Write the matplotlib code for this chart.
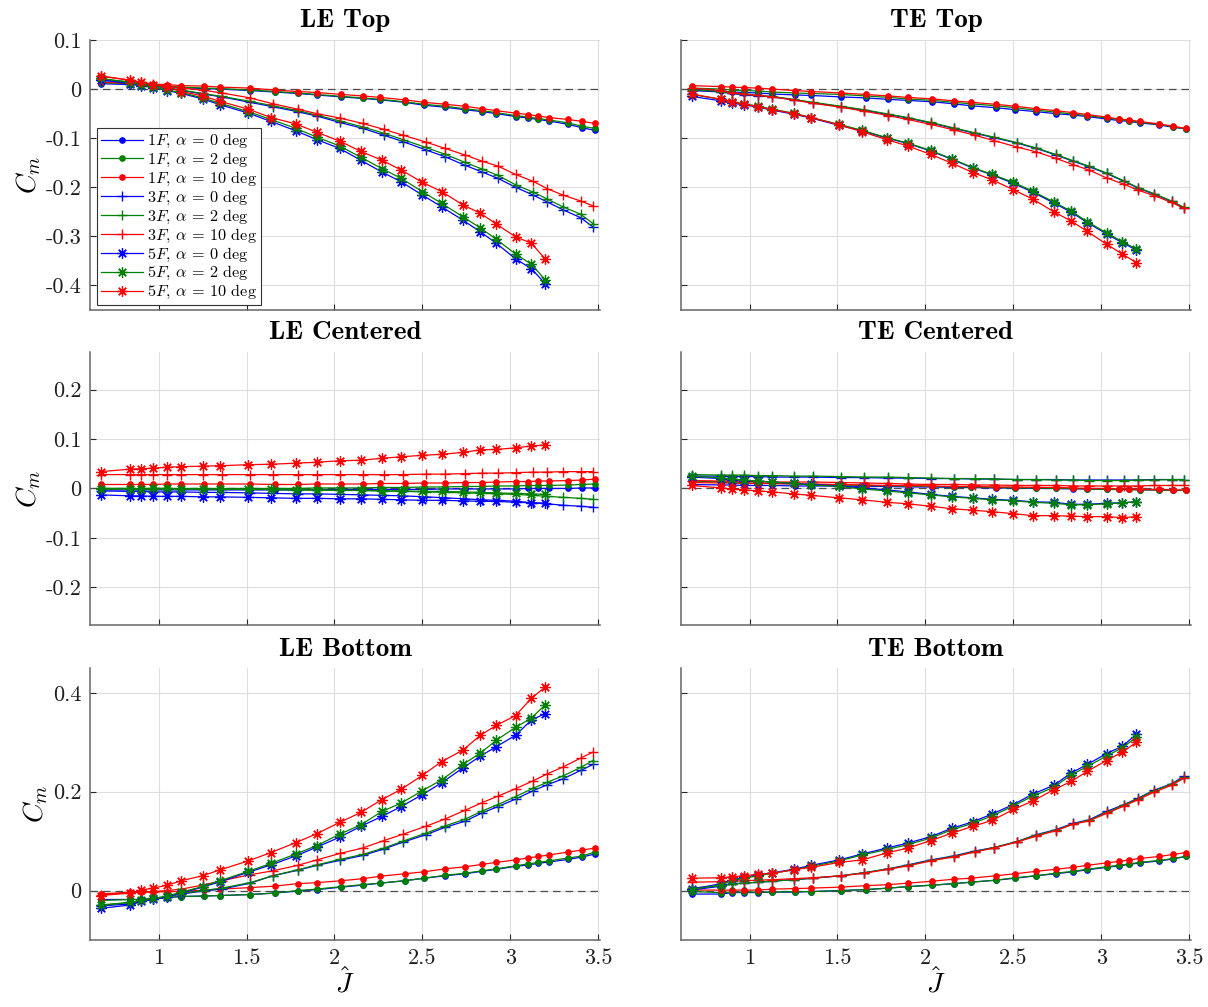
import matplotlib
matplotlib.use("Agg")
import matplotlib.pyplot as plt
from matplotlib.ticker import FuncFormatter

plt.rcParams['font.family'] = ['cmr10', 'DejaVu Serif']
plt.rcParams['mathtext.fontset'] = 'cm'
plt.rcParams['axes.unicode_minus'] = False
plt.rcParams['axes.formatter.use_mathtext'] = True

# ---------------- data ----------------
J1 = [0.67, 0.84, 0.90, 0.97, 1.05, 1.13, 1.26, 1.35, 1.52, 1.66, 1.79, 1.90, 2.04, 2.16,
      2.26, 2.40, 2.51, 2.63, 2.74, 2.84, 2.92, 3.03, 3.10, 3.16, 3.22, 3.33, 3.41, 3.48]
J3 = [0.67, 0.84, 0.90, 0.97, 1.05, 1.13, 1.25, 1.36, 1.52, 1.65, 1.79, 1.90, 2.03, 2.16,
      2.28, 2.39, 2.52, 2.63, 2.74, 2.84, 2.93, 3.03, 3.13, 3.21, 3.30, 3.40, 3.47]
J5 = [0.67, 0.84, 0.90, 0.97, 1.05, 1.13, 1.25, 1.35, 1.51, 1.64, 1.78, 1.90, 2.03, 2.15,
      2.27, 2.38, 2.50, 2.61, 2.73, 2.83, 2.92, 3.03, 3.12, 3.20]

titles = ['LE Top', 'TE Top', 'LE Centered', 'TE Centered', 'LE Bottom', 'TE Bottom']
alphas = [0, 2, 10]
fins = ['1F', '3F', '5F']

# LE Top
le_top_1f = [
    [0.011, 0.009, 0.008, 0.007, 0.005, 0.003, 0.001, 0.000, -0.003, -0.006, -0.009, -0.012, -0.016, -0.019,
     -0.022, -0.027, -0.033, -0.037, -0.042, -0.046, -0.050, -0.056, -0.059, -0.062, -0.065, -0.072, -0.079, -0.084],
    [0.013, 0.011, 0.010, 0.008, 0.006, 0.004, 0.002, 0.001, -0.002, -0.005, -0.008, -0.011, -0.015, -0.018,
     -0.021, -0.026, -0.031, -0.035, -0.040, -0.044, -0.048, -0.054, -0.057, -0.060, -0.063, -0.069, -0.076, -0.080],
    [0.014, 0.012, 0.011, 0.010, 0.009, 0.007, 0.006, 0.004, 0.002, -0.002, -0.005, -0.007, -0.011, -0.014,
     -0.017, -0.022, -0.027, -0.031, -0.035, -0.040, -0.044, -0.049, -0.052, -0.055, -0.058, -0.062, -0.066, -0.070],
]
le_top_3f = [
    [0.018, 0.013, 0.010, 0.006, 0.002, -0.003, -0.010, -0.016, -0.027, -0.036, -0.046, -0.055, -0.068, -0.080,
     -0.094, -0.107, -0.124, -0.138, -0.155, -0.169, -0.182, -0.200, -0.216, -0.230, -0.246, -0.262, -0.281],
    [0.020, 0.015, 0.011, 0.007, 0.003, -0.002, -0.009, -0.015, -0.025, -0.034, -0.044, -0.053, -0.065, -0.077,
     -0.090, -0.103, -0.119, -0.133, -0.149, -0.163, -0.176, -0.195, -0.210, -0.224, -0.240, -0.255, -0.274],
    [0.026, 0.018, 0.014, 0.010, 0.006, 0.002, -0.002, -0.008, -0.018, -0.030, -0.041, -0.050, -0.059, -0.070,
     -0.082, -0.094, -0.108, -0.121, -0.134, -0.147, -0.157, -0.174, -0.188, -0.203, -0.216, -0.228, -0.238],
]
le_top_5f = [
    [0.019, 0.011, 0.007, 0.003, -0.003, -0.009, -0.020, -0.032, -0.049, -0.066, -0.085, -0.103, -0.121, -0.145,
     -0.169, -0.189, -0.216, -0.240, -0.267, -0.291, -0.314, -0.346, -0.366, -0.397],
    [0.022, 0.013, 0.009, 0.004, -0.002, -0.007, -0.018, -0.029, -0.046, -0.062, -0.080, -0.098, -0.116, -0.139,
     -0.162, -0.182, -0.209, -0.233, -0.260, -0.283, -0.306, -0.336, -0.357, -0.389],
    [0.027, 0.018, 0.014, 0.009, 0.004, -0.005, -0.014, -0.025, -0.041, -0.058, -0.071, -0.088, -0.106, -0.127,
     -0.145, -0.165, -0.190, -0.209, -0.236, -0.253, -0.275, -0.301, -0.314, -0.347],
]

# TE Top
te_top_1f = [
    [-0.001, -0.004, -0.006, -0.007, -0.008, -0.010, -0.012, -0.013, -0.016, -0.018, -0.021, -0.023, -0.026, -0.030,
     -0.034, -0.038, -0.042, -0.046, -0.050, -0.053, -0.056, -0.061, -0.064, -0.066, -0.069, -0.073, -0.078, -0.081],
    [0.002, 0.000, -0.002, -0.003, -0.004, -0.006, -0.008, -0.009, -0.011, -0.014, -0.017, -0.020, -0.023, -0.027,
     -0.030, -0.034, -0.038, -0.043, -0.047, -0.051, -0.054, -0.059, -0.062, -0.065, -0.068, -0.072, -0.077, -0.081],
    [0.007, 0.005, 0.004, 0.003, 0.002, 0.000, -0.003, -0.005, -0.008, -0.011, -0.014, -0.017, -0.020, -0.024,
     -0.027, -0.031, -0.035, -0.040, -0.044, -0.048, -0.052, -0.057, -0.061, -0.063, -0.066, -0.071, -0.076, -0.080],
]
te_top_3f = [
    [-0.003, -0.006, -0.009, -0.012, -0.014, -0.016, -0.022, -0.028, -0.036, -0.043, -0.052, -0.059, -0.069, -0.080,
     -0.090, -0.099, -0.110, -0.121, -0.134, -0.147, -0.158, -0.172, -0.188, -0.202, -0.214, -0.229, -0.242],
    [-0.001, -0.005, -0.008, -0.011, -0.013, -0.015, -0.021, -0.027, -0.035, -0.042, -0.051, -0.058, -0.068, -0.079,
     -0.089, -0.098, -0.109, -0.120, -0.133, -0.146, -0.157, -0.171, -0.187, -0.201, -0.213, -0.228, -0.241],
    [0.002, -0.003, -0.007, -0.010, -0.013, -0.016, -0.022, -0.029, -0.037, -0.045, -0.054, -0.062, -0.072, -0.083,
     -0.094, -0.105, -0.118, -0.128, -0.141, -0.154, -0.165, -0.181, -0.194, -0.206, -0.217, -0.231, -0.243],
]
te_top_5f = [
    [-0.015, -0.024, -0.029, -0.032, -0.037, -0.043, -0.051, -0.059, -0.074, -0.085, -0.100, -0.111, -0.126, -0.143,
     -0.161, -0.175, -0.192, -0.210, -0.232, -0.251, -0.272, -0.295, -0.313, -0.328],
    [-0.011, -0.021, -0.026, -0.030, -0.035, -0.041, -0.049, -0.058, -0.072, -0.084, -0.099, -0.110, -0.125, -0.142,
     -0.160, -0.174, -0.190, -0.208, -0.230, -0.249, -0.270, -0.293, -0.311, -0.326],
    [-0.010, -0.021, -0.026, -0.031, -0.036, -0.042, -0.050, -0.058, -0.073, -0.087, -0.103, -0.116, -0.133, -0.151,
     -0.170, -0.185, -0.205, -0.224, -0.250, -0.269, -0.290, -0.316, -0.336, -0.354],
]

# LE Centered
le_cen_1f = [
    [-0.003, -0.003, -0.003, -0.003, -0.003, -0.003, -0.003, -0.003, -0.003, -0.003, -0.003, -0.002, -0.002, -0.002,
     -0.002, -0.002, -0.002, -0.001, -0.001, -0.001, -0.001, -0.001, 0.000, 0.000, 0.000, 0.000, 0.001, 0.001],
    [0.000, 0.000, 0.000, 0.000, 0.000, 0.000, 0.000, 0.000, 0.000, 0.000, 0.000, 0.001, 0.001, 0.001,
     0.002, 0.002, 0.003, 0.003, 0.004, 0.004, 0.005, 0.005, 0.006, 0.006, 0.006, 0.007, 0.008, 0.009],
    [0.008, 0.008, 0.008, 0.008, 0.009, 0.009, 0.009, 0.009, 0.009, 0.008, 0.008, 0.009, 0.009, 0.009,
     0.010, 0.010, 0.011, 0.011, 0.012, 0.012, 0.013, 0.014, 0.014, 0.015, 0.015, 0.016, 0.017, 0.019],
]
le_cen_3f = [
    [-0.005, -0.006, -0.006, -0.007, -0.007, -0.007, -0.008, -0.008, -0.009, -0.010, -0.011, -0.011, -0.012, -0.013,
     -0.014, -0.015, -0.017, -0.019, -0.021, -0.023, -0.024, -0.026, -0.029, -0.031, -0.034, -0.036, -0.038],
    [0.000, 0.000, -0.001, -0.001, -0.001, -0.001, -0.001, -0.002, -0.002, -0.002, -0.003, -0.003, -0.004, -0.004,
     -0.005, -0.006, -0.007, -0.008, -0.009, -0.010, -0.011, -0.012, -0.014, -0.016, -0.018, -0.020, -0.022],
    [0.028, 0.028, 0.028, 0.028, 0.028, 0.028, 0.028, 0.028, 0.028, 0.028, 0.028, 0.028, 0.028, 0.028,
     0.028, 0.028, 0.029, 0.029, 0.030, 0.031, 0.031, 0.032, 0.033, 0.033, 0.034, 0.034, 0.034],
]
le_cen_5f = [
    [-0.013, -0.015, -0.015, -0.016, -0.016, -0.016, -0.017, -0.017, -0.018, -0.019, -0.020, -0.020, -0.021, -0.021,
     -0.022, -0.023, -0.024, -0.024, -0.025, -0.026, -0.026, -0.028, -0.029, -0.030],
    [-0.002, -0.001, -0.001, 0.000, 0.000, -0.001, -0.001, -0.001, -0.002, -0.002, -0.003, -0.003, -0.004, -0.004,
     -0.005, -0.005, -0.006, -0.006, -0.007, -0.008, -0.009, -0.010, -0.011, -0.012],
    [0.034, 0.039, 0.040, 0.041, 0.043, 0.044, 0.045, 0.046, 0.048, 0.049, 0.051, 0.053, 0.056, 0.057,
     0.061, 0.064, 0.067, 0.069, 0.073, 0.078, 0.079, 0.082, 0.086, 0.088],
]

# TE Centered
te_cen_1f = [
    [0.008, 0.007, 0.007, 0.006, 0.006, 0.006, 0.005, 0.005, 0.005, 0.004, 0.004, 0.003, 0.003, 0.002,
     0.002, 0.001, 0.001, 0.000, 0.000, -0.001, -0.001, -0.002, -0.002, -0.002, -0.003, -0.003, -0.004, -0.004],
    [0.015, 0.013, 0.012, 0.011, 0.011, 0.010, 0.009, 0.008, 0.007, 0.006, 0.005, 0.005, 0.004, 0.003,
     0.003, 0.002, 0.001, 0.001, 0.000, 0.000, -0.001, -0.002, -0.002, -0.002, -0.003, -0.003, -0.004, -0.004],
    [0.012, 0.011, 0.011, 0.010, 0.010, 0.010, 0.009, 0.009, 0.008, 0.007, 0.006, 0.006, 0.005, 0.004,
     0.004, 0.003, 0.003, 0.002, 0.002, 0.001, 0.000, 0.000, -0.001, -0.001, -0.002, -0.002, -0.003, -0.003],
]
te_cen_3f = [
    [0.025, 0.025, 0.024, 0.024, 0.024, 0.023, 0.023, 0.023, 0.022, 0.022, 0.021, 0.021, 0.020, 0.020,
     0.019, 0.019, 0.018, 0.018, 0.018, 0.017, 0.017, 0.017, 0.017, 0.017, 0.018, 0.018, 0.018],
    [0.028, 0.027, 0.027, 0.027, 0.026, 0.026, 0.025, 0.025, 0.024, 0.023, 0.023, 0.022, 0.021, 0.020,
     0.020, 0.019, 0.018, 0.018, 0.017, 0.017, 0.016, 0.016, 0.016, 0.017, 0.017, 0.018, 0.018],
    [0.016, 0.015, 0.015, 0.014, 0.014, 0.013, 0.013, 0.013, 0.012, 0.011, 0.010, 0.009, 0.008, 0.008,
     0.007, 0.007, 0.006, 0.006, 0.006, 0.005, 0.005, 0.005, 0.005, 0.005, 0.006, 0.006, 0.006],
]
te_cen_5f = [
    [0.023, 0.020, 0.018, 0.016, 0.015, 0.013, 0.010, 0.008, 0.005, 0.001, -0.003, -0.007, -0.012, -0.016,
     -0.019, -0.022, -0.024, -0.027, -0.028, -0.032, -0.032, -0.030, -0.029, -0.027],
    [0.025, 0.021, 0.019, 0.017, 0.015, 0.013, 0.010, 0.007, 0.004, -0.001, -0.005, -0.009, -0.013, -0.017,
     -0.020, -0.023, -0.025, -0.028, -0.030, -0.033, -0.033, -0.031, -0.029, -0.027],
    [0.006, 0.001, -0.001, -0.003, -0.005, -0.007, -0.011, -0.014, -0.019, -0.023, -0.028, -0.031, -0.036, -0.041,
     -0.044, -0.047, -0.051, -0.055, -0.055, -0.056, -0.057, -0.057, -0.059, -0.057],
]

# LE Bottom
le_bot_1f = [
    [-0.018, -0.018, -0.018, -0.016, -0.014, -0.012, -0.011, -0.010, -0.008, -0.005, -0.001, 0.002, 0.007, 0.011,
     0.015, 0.020, 0.025, 0.030, 0.034, 0.039, 0.043, 0.049, 0.052, 0.055, 0.058, 0.063, 0.068, 0.074],
    [-0.020, -0.018, -0.018, -0.016, -0.014, -0.012, -0.011, -0.010, -0.008, -0.005, 0.000, 0.003, 0.008, 0.012,
     0.015, 0.020, 0.025, 0.031, 0.035, 0.040, 0.044, 0.050, 0.054, 0.057, 0.060, 0.066, 0.070, 0.078],
    [-0.007, -0.003, -0.003, -0.003, -0.002, -0.002, 0.001, 0.003, 0.006, 0.009, 0.014, 0.016, 0.020, 0.024,
     0.029, 0.034, 0.038, 0.044, 0.048, 0.053, 0.057, 0.062, 0.066, 0.069, 0.072, 0.078, 0.082, 0.086],
]
le_bot_3f = [
    [-0.031, -0.027, -0.022, -0.018, -0.012, -0.007, -0.001, 0.003, 0.015, 0.030, 0.041, 0.051, 0.061, 0.071,
     0.084, 0.098, 0.113, 0.128, 0.140, 0.157, 0.170, 0.185, 0.202, 0.214, 0.226, 0.243, 0.255],
    [-0.029, -0.024, -0.020, -0.016, -0.012, -0.006, 0.000, 0.005, 0.016, 0.030, 0.042, 0.052, 0.063, 0.073,
     0.086, 0.100, 0.116, 0.131, 0.144, 0.161, 0.174, 0.190, 0.207, 0.219, 0.232, 0.249, 0.263],
    [-0.009, -0.004, -0.003, -0.002, 0.000, 0.003, 0.011, 0.020, 0.032, 0.040, 0.051, 0.062, 0.075, 0.086,
     0.101, 0.114, 0.130, 0.145, 0.162, 0.178, 0.191, 0.206, 0.222, 0.236, 0.250, 0.268, 0.280],
]
le_bot_5f = [
    [-0.036, -0.029, -0.022, -0.018, -0.012, -0.005, 0.007, 0.018, 0.037, 0.052, 0.070, 0.088, 0.108, 0.130,
     0.150, 0.170, 0.194, 0.218, 0.248, 0.272, 0.291, 0.314, 0.345, 0.358],
    [-0.030, -0.024, -0.020, -0.016, -0.011, -0.003, 0.008, 0.020, 0.039, 0.055, 0.074, 0.091, 0.114, 0.133,
     0.160, 0.177, 0.202, 0.224, 0.255, 0.278, 0.304, 0.330, 0.349, 0.376],
    [-0.010, -0.005, 0.001, 0.005, 0.011, 0.020, 0.030, 0.042, 0.060, 0.077, 0.097, 0.115, 0.138, 0.158,
     0.184, 0.205, 0.233, 0.261, 0.284, 0.314, 0.334, 0.354, 0.389, 0.412],
]

# TE Bottom
te_bot_1f = [
    [-0.007, -0.007, -0.004, -0.004, -0.004, -0.003, -0.003, -0.002, 0.000, 0.002, 0.005, 0.008, 0.011, 0.014,
     0.017, 0.021, 0.025, 0.030, 0.034, 0.038, 0.042, 0.047, 0.050, 0.053, 0.056, 0.060, 0.064, 0.069],
    [-0.002, -0.004, -0.003, -0.003, -0.003, -0.003, -0.002, -0.002, 0.000, 0.002, 0.005, 0.008, 0.011, 0.014,
     0.017, 0.021, 0.026, 0.030, 0.035, 0.039, 0.043, 0.048, 0.051, 0.054, 0.057, 0.061, 0.065, 0.069],
    [0.001, 0.001, 0.001, 0.001, 0.001, 0.003, 0.004, 0.005, 0.007, 0.010, 0.012, 0.015, 0.019, 0.023,
     0.025, 0.030, 0.034, 0.039, 0.043, 0.047, 0.051, 0.056, 0.059, 0.062, 0.065, 0.069, 0.073, 0.077],
]
te_bot_3f = [
    [0.001, 0.009, 0.014, 0.015, 0.017, 0.019, 0.022, 0.025, 0.030, 0.036, 0.044, 0.052, 0.062, 0.070,
     0.080, 0.087, 0.099, 0.113, 0.123, 0.136, 0.143, 0.160, 0.174, 0.187, 0.203, 0.216, 0.231],
    [0.005, 0.010, 0.013, 0.015, 0.017, 0.019, 0.022, 0.025, 0.030, 0.036, 0.044, 0.051, 0.061, 0.069,
     0.079, 0.087, 0.099, 0.112, 0.122, 0.135, 0.142, 0.158, 0.173, 0.186, 0.202, 0.215, 0.229],
    [0.017, 0.018, 0.019, 0.020, 0.021, 0.022, 0.024, 0.026, 0.030, 0.035, 0.043, 0.050, 0.060, 0.068,
     0.078, 0.086, 0.098, 0.110, 0.121, 0.134, 0.141, 0.156, 0.171, 0.184, 0.199, 0.213, 0.227],
]
te_bot_5f = [
    [0.003, 0.014, 0.022, 0.027, 0.032, 0.036, 0.043, 0.051, 0.062, 0.074, 0.086, 0.096, 0.109, 0.126,
     0.139, 0.155, 0.174, 0.195, 0.213, 0.238, 0.255, 0.277, 0.292, 0.316],
    [0.002, 0.012, 0.020, 0.025, 0.030, 0.035, 0.042, 0.049, 0.060, 0.072, 0.083, 0.093, 0.106, 0.123,
     0.136, 0.151, 0.171, 0.191, 0.209, 0.234, 0.251, 0.272, 0.289, 0.310],
    [0.025, 0.026, 0.028, 0.030, 0.033, 0.035, 0.042, 0.047, 0.057, 0.062, 0.076, 0.086, 0.101, 0.116,
     0.130, 0.142, 0.164, 0.181, 0.204, 0.221, 0.241, 0.263, 0.280, 0.300],
]

x_ticks = [1, 1.5, 2, 2.5, 3, 3.5]
row_yticks = [[-0.4, -0.3, -0.2, -0.1, 0, 0.1],
              [-0.2, -0.1, 0, 0.1, 0.2],
              [0, 0.2, 0.4]]
row_ylims = [(-0.45, 0.1), (-0.276, 0.276), (-0.1, 0.45)]

# ---------------- styling ----------------
colors = [(0, 0, 1), (0, 0.5, 0), (1, 0, 0)]
markers = [dict(marker='o', ms=3.8), dict(marker='+', ms=7.5, mew=1.0),
           dict(marker=(8, 2, 0), ms=7.5, mew=0.9)]

panel_data = [
    (le_top_1f, le_top_3f, le_top_5f), (te_top_1f, te_top_3f, te_top_5f),
    (le_cen_1f, le_cen_3f, le_cen_5f), (te_cen_1f, te_cen_3f, te_cen_5f),
    (le_bot_1f, le_bot_3f, le_bot_5f), (te_bot_1f, te_bot_3f, te_bot_5f),
]
Js = [J1, J3, J5]

fig = plt.figure(figsize=(12.08, 10.07), dpi=100)
lefts = [0.0745, 0.5637]
width = 0.4222
bottoms = [0.6922, 0.3794, 0.0665]
heights = [0.2681, 0.2711, 0.2701]


def yfmt(v, _):
    v = round(v, 6)
    if v == 0:
        return '0'
    return f'{v:g}'


spine_col = (0.4, 0.4, 0.4)
for idx, (title, pdata) in enumerate(zip(titles, panel_data)):
    r, c = divmod(idx, 2)
    ax = fig.add_axes([lefts[c], bottoms[r], width, heights[r]])
    ax.axhline(0, color=(0.3, 0.3, 0.3), ls=(0, (6, 4)), lw=0.9, zorder=1)
    for fi, series in enumerate(pdata):
        for ai, yv in enumerate(series):
            ax.plot(Js[fi], yv, color=colors[ai], lw=0.9, **markers[fi],
                    label=rf'${fins[fi][0]}F$, $\alpha$ = {alphas[ai]} deg', zorder=3)
    ax.set_xlim(0.61, 3.51)
    ax.set_ylim(*row_ylims[r])
    ax.set_xticks(x_ticks)
    ax.set_yticks(row_yticks[r])
    ax.grid(True, color=(0.87, 0.87, 0.87), lw=0.8)
    ax.set_axisbelow(True)
    for s in ['top', 'right']:
        ax.spines[s].set_visible(False)
    for s in ['left', 'bottom']:
        ax.spines[s].set_color(spine_col)
        ax.spines[s].set_linewidth(1.1)
    ax.tick_params(direction='in', length=4, width=0.8, colors=(0.15, 0.15, 0.15),
                   labelsize=16, labelcolor=(0.12, 0.12, 0.12), pad=6)
    ax.yaxis.set_major_formatter(FuncFormatter(yfmt))
    ax.xaxis.set_major_formatter(FuncFormatter(yfmt))
    ax.set_title(title, family='cmb10', fontsize=19.5, pad=9)
    if c == 1:
        ax.set_yticklabels([])
    else:
        ax.set_ylabel(r'$C_m$', fontsize=20, labelpad=2)
    if r < 2:
        ax.set_xticklabels([])
    else:
        ax.set_xlabel(r'$\hat{J}$', fontsize=20, labelpad=0)
    if idx == 0:
        leg = ax.legend(loc='lower left', bbox_to_anchor=(0.014, 0.017), borderaxespad=0,
                        fontsize=11.7, handlelength=2.6, labelspacing=0.05, handletextpad=0.2,
                        borderpad=0.25, fancybox=False, framealpha=1, edgecolor=(0.2, 0.2, 0.2))
        leg.get_frame().set_linewidth(0.8)

fig.savefig('out.png', dpi=100)
